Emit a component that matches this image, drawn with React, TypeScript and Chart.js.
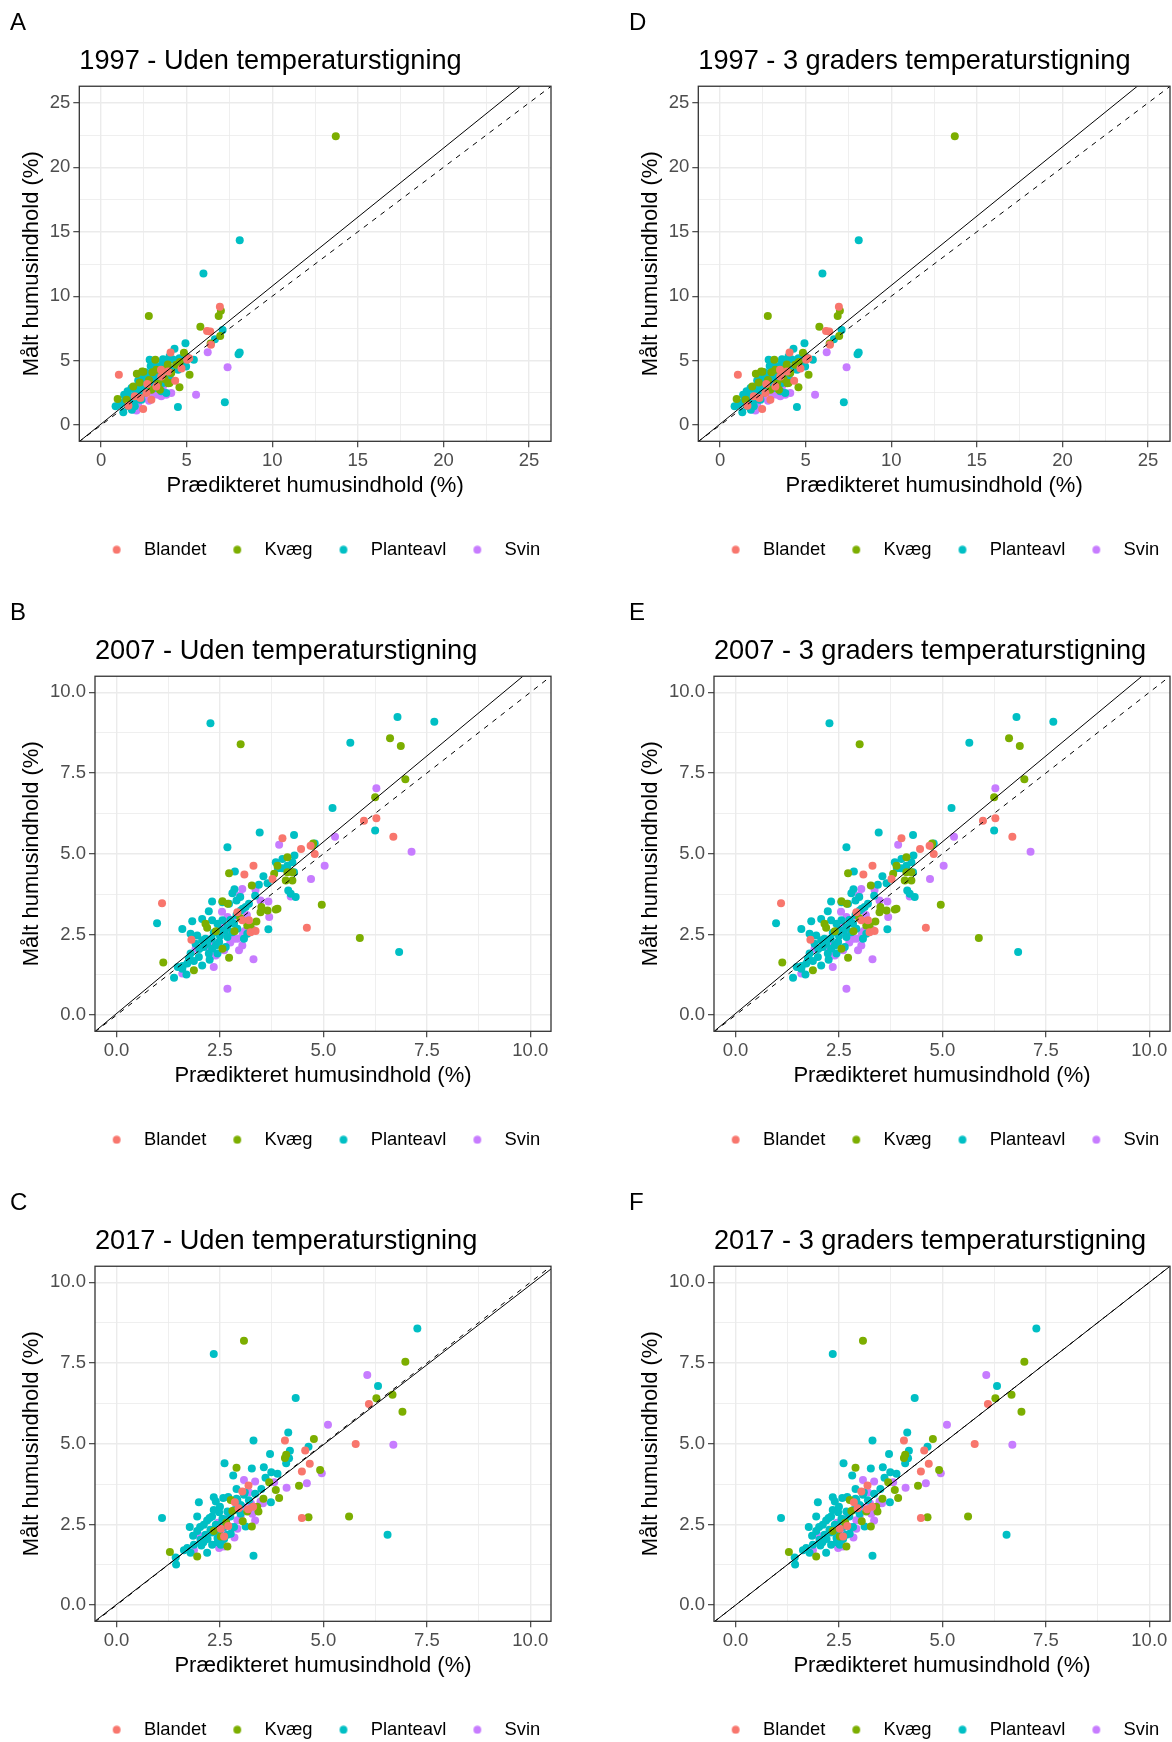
import React, { useEffect, useRef } from 'react';
import { Chart, registerables } from 'chart.js';

Chart.register(...registerables);

type Pt = [number, number];

const FONT = "'Liberation Sans', Arial, Helvetica, sans-serif";

const categories = ['Blandet', 'Kvæg', 'Planteavl', 'Svin'];
const categoryColors = ['#F8766D', '#7CAE00', '#00BFC4', '#C77CFF'];

// ---------- 1997 ----------
const blandet1997: Pt[] = [
  [1.04, 3.91], [6.94, 9.19], [6.19, 7.31], [6.38, 7.26], [6.42, 6.23], [4.06, 5.64], [5.03, 5.07],
  [4.33, 3.45], [2.94, 1.98], [2.46, 1.26], [3.52, 3.78], [3.23, 3.01], [2.65, 2.5], [1.97, 2.24],
  [3.91, 4.17], [5.15, 5.19], [2.3, 2.1], [1.6, 1.5], [3.5, 4.3], [2.7, 3.2], [4.7, 4.4],
];
const kvaeg1997: Pt[] = [
  [13.71, 22.41], [2.79, 8.47], [7.0, 8.88], [6.87, 8.47], [5.8, 7.64], [6.96, 6.92], [6.4, 6.33],
  [5.17, 3.91], [4.58, 2.94], [0.97, 2.03], [2.09, 3.99], [2.4, 4.17], [3.17, 5.07], [4.84, 5.62],
  [4.39, 4.68], [4.1, 4.04], [4.0, 3.27], [3.71, 3.58], [3.33, 3.22], [2.94, 2.75], [2.26, 3.32],
  [1.88, 3.01], [1.49, 1.98], [3.23, 4.3], [3.44, 2.74], [3.93, 3.26], [2.47, 4.15], [3.6, 4.3],
  [3.9, 4.7], [4.6, 4.9], [2.8, 3.5], [3.0, 4.1],
];
const planteavl1997: Pt[] = [
  [8.1, 14.34], [5.98, 11.76], [7.1, 7.39], [6.65, 6.67], [8.1, 5.64], [8.03, 5.51], [4.93, 6.36],
  [4.29, 5.92], [5.42, 5.07], [4.49, 1.42], [7.23, 1.78], [0.85, 1.47], [1.3, 1.0], [2.84, 5.07],
  [3.62, 5.12], [4.0, 5.33], [4.58, 5.2], [4.97, 4.56], [4.87, 4.94], [4.39, 4.56], [3.42, 4.56],
  [3.81, 4.81], [3.13, 4.17], [2.75, 3.78], [2.46, 3.66], [2.17, 3.47], [2.55, 3.27], [2.84, 3.01],
  [3.13, 2.88], [3.52, 2.63], [3.81, 2.5], [3.62, 3.27], [4.0, 3.78], [1.55, 2.63], [1.68, 2.24],
  [1.39, 1.85], [1.88, 1.85], [2.07, 2.24], [2.36, 1.98], [1.59, 1.47], [1.97, 1.47], [1.1, 1.6],
  [2.26, 2.88], [2.55, 2.5], [2.94, 3.4], [3.33, 3.78], [4.1, 4.3], [4.68, 4.81], [3.13, 4.81],
  [3.52, 4.04], [1.78, 2.88], [1.35, 2.37], [2.2, 2.0], [1.8, 1.2], [2.0, 2.6], [2.3, 2.4],
  [2.7, 3.2], [3.0, 3.6], [3.3, 4.4], [3.6, 4.9], [3.9, 5.0], [4.2, 5.1], [4.4, 5.0], [2.6, 4.1],
  [2.9, 4.6], [3.4, 3.1], [3.7, 3.6], [1.5, 1.9], [1.7, 1.6], [2.45, 2.95], [3.2, 3.2], [4.5, 4.3],
  [4.8, 5.1], [5.0, 5.3],
];
const svin1997: Pt[] = [
  [6.23, 5.66], [7.39, 4.5], [5.55, 2.37], [2.07, 1.13], [3.71, 4.81], [3.42, 3.78], [3.04, 3.53],
  [2.65, 3.14], [2.94, 3.01], [3.23, 3.53], [3.62, 3.01], [3.81, 2.37], [3.52, 2.24], [3.33, 2.37],
  [2.36, 2.5], [2.75, 2.75], [2.17, 1.6], [1.88, 1.21], [4.1, 2.5], [3.91, 4.56], [3.1, 4.2],
  [3.4, 4.5], [2.5, 2.1], [3.0, 2.3], [2.8, 1.9], [3.6, 3.4], [2.2, 2.9],
];

// ---------- 2007 ----------
const blandet2007: Pt[] = [
  [5.98, 6.02], [6.28, 6.1], [6.69, 5.53], [4.01, 5.48], [4.46, 5.15], [4.79, 4.99], [4.69, 5.25],
  [3.31, 4.63], [3.09, 4.36], [4.6, 2.71], [1.1, 3.47], [1.81, 2.34], [3.24, 2.57], [3.2, 2.94],
  [3.77, 4.22], [2.92, 3.19], [3.04, 2.94], [3.36, 2.61],
];
const kvaeg2007: Pt[] = [
  [3.0, 8.39], [6.61, 8.58], [6.87, 8.34], [6.98, 7.31], [6.25, 6.75], [4.75, 5.32], [2.72, 4.4],
  [4.96, 3.42], [5.88, 2.39], [1.13, 1.63], [1.87, 1.39], [2.72, 1.78], [3.27, 4.02], [3.89, 4.63],
  [4.13, 4.89], [4.09, 4.17], [4.25, 4.17], [3.48, 3.19], [3.65, 3.24], [3.85, 3.27], [3.89, 3.3],
  [3.38, 2.9], [2.99, 3.01], [3.16, 2.78], [2.56, 3.53], [2.69, 3.45], [2.15, 2.83], [2.19, 2.71],
  [2.56, 2.06], [3.24, 2.76], [4.13, 4.43], [4.25, 4.43], [4.73, 5.25], [3.81, 4.38], [2.4, 2.6],
  [2.85, 2.6], [3.5, 3.35],
];
const planteavl2007: Pt[] = [
  [2.27, 9.04], [6.79, 9.24], [7.68, 9.09], [5.65, 8.44], [5.22, 6.42], [6.25, 5.72], [3.46, 5.66],
  [4.29, 5.58], [2.68, 5.2], [4.79, 5.32], [2.86, 4.45], [6.83, 1.96], [0.98, 2.85], [1.39, 1.16],
  [1.69, 1.26], [3.67, 2.66], [3.44, 4.04], [3.85, 4.74], [4.01, 4.84], [4.25, 4.74], [4.13, 4.63],
  [4.29, 4.43], [4.21, 3.76], [4.33, 3.66], [4.15, 3.86], [3.65, 4.09], [2.9, 3.55], [2.72, 3.45],
  [2.99, 3.66], [2.8, 3.78], [2.56, 3.5], [2.31, 3.52], [2.23, 3.22], [2.07, 2.98], [1.83, 2.91],
  [1.59, 2.67], [1.79, 2.52], [1.95, 2.47], [2.07, 2.32], [2.19, 2.21], [2.31, 2.06], [2.44, 1.91],
  [1.99, 1.8], [1.87, 1.68], [2.07, 1.54], [1.71, 1.6], [1.59, 1.44], [2.23, 1.91], [2.11, 2.11],
  [2.48, 2.27], [2.68, 2.42], [2.52, 2.63], [2.68, 2.73], [2.84, 2.83], [3.16, 2.52], [3.08, 2.37],
  [2.56, 2.94], [2.44, 2.83], [3.0, 3.24], [3.12, 3.35], [2.15, 2.37], [1.91, 2.21], [2.3, 2.37],
  [2.4, 2.16], [2.64, 2.11], [1.79, 1.91], [1.48, 1.49], [2.8, 2.57], [2.92, 2.68], [2.31, 2.94],
  [2.35, 2.55], [2.5, 2.45], [2.62, 2.62], [2.75, 2.95], [2.9, 3.1], [3.05, 3.3], [3.2, 3.45],
  [2.0, 2.05], [1.75, 1.75], [1.6, 1.52], [2.25, 1.72], [2.45, 2.2], [3.35, 3.7], [3.55, 4.3],
  [4.0, 4.55], [4.3, 4.95], [3.9, 4.55], [2.85, 3.9],
];
const svin2007: Pt[] = [
  [6.28, 7.03], [7.13, 5.06], [5.28, 5.53], [3.93, 5.28], [5.03, 4.63], [4.7, 4.22], [2.68, 0.82],
  [3.31, 1.73], [2.35, 1.49], [4.21, 3.68], [3.04, 3.91], [2.98, 3.71], [3.36, 3.88], [3.67, 3.52],
  [2.68, 3.04], [2.8, 2.94], [2.84, 2.37], [3.04, 2.16], [2.96, 2.01], [2.6, 2.01], [2.4, 1.85],
  [2.27, 1.8], [2.19, 2.11], [3.32, 2.63], [3.1, 2.61], [2.92, 2.37], [1.59, 1.29], [1.91, 2.06],
  [3.48, 3.55], [3.69, 3.04], [2.5, 2.75], [2.65, 2.55], [2.75, 2.25], [3.05, 2.5], [3.15, 3.1],
  [2.3, 2.3], [2.55, 3.2],
];

// ---------- 2017 ----------
const blandet2017: Pt[] = [
  [6.1, 6.23], [5.78, 4.99], [4.07, 5.1], [4.56, 4.79], [4.67, 4.38], [4.48, 4.14], [4.48, 2.7],
  [3.19, 3.71], [3.04, 3.52], [2.86, 3.19], [3.18, 2.97], [2.6, 2.13], [2.52, 2.37], [2.95, 3.0],
  [2.7, 2.45], [3.3, 3.05],
];
const kvaeg2017: Pt[] = [
  [3.08, 8.19], [6.98, 7.54], [6.28, 6.41], [6.67, 6.52], [6.91, 5.99], [4.77, 5.15], [4.07, 4.56],
  [4.1, 4.66], [2.9, 4.26], [4.92, 4.19], [4.41, 3.7], [3.85, 3.57], [3.93, 3.32], [3.69, 3.81],
  [3.43, 2.9], [2.76, 3.26], [2.8, 2.92], [3.16, 2.9], [3.27, 2.44], [5.62, 2.75], [4.64, 2.72],
  [1.29, 1.65], [1.95, 1.51], [2.68, 1.82], [2.52, 2.13], [3.4, 3.05], [2.65, 2.55], [3.05, 2.6],
  [3.55, 3.3], [2.35, 2.3],
];
const planteavl2017: Pt[] = [
  [7.27, 8.57], [2.35, 7.78], [6.32, 6.79], [4.33, 6.42], [3.31, 5.1], [4.15, 5.35], [3.71, 4.68],
  [4.19, 4.78], [4.64, 4.91], [2.61, 4.4], [2.82, 4.02], [3.27, 4.23], [3.56, 4.27], [3.74, 4.12],
  [3.89, 4.07], [4.1, 4.4], [4.17, 4.55], [2.9, 3.6], [3.08, 3.42], [1.99, 3.19], [2.35, 3.34],
  [2.58, 3.32], [1.95, 2.75], [1.77, 2.42], [2.02, 2.42], [2.19, 2.62], [2.31, 2.75], [2.48, 2.88],
  [2.68, 2.9], [2.56, 2.68], [2.4, 2.49], [2.27, 2.34], [2.15, 2.18], [2.03, 2.03], [1.87, 1.87],
  [1.71, 1.77], [1.79, 1.62], [2.19, 1.62], [2.44, 2.08], [2.68, 2.18], [3.12, 2.44], [3.73, 3.19],
  [1.1, 2.7], [1.43, 1.48], [1.44, 1.26], [3.31, 1.53], [6.55, 2.18], [2.92, 3.26], [3.0, 2.83],
  [2.4, 3.21], [2.84, 2.42], [2.52, 1.87], [2.31, 1.87], [1.63, 1.7], [2.11, 2.49], [2.76, 2.21],
  [2.6, 2.42], [2.48, 2.21], [2.2, 2.05], [2.3, 2.25], [2.45, 2.35], [2.55, 2.55], [2.65, 2.65],
  [2.75, 2.75], [2.85, 2.95], [3.0, 3.1], [3.2, 3.25], [3.35, 3.45], [2.05, 1.85], [1.95, 2.3],
  [2.25, 2.7], [2.35, 2.95], [2.5, 3.05], [2.7, 3.35], [3.5, 3.6], [3.6, 3.95], [2.1, 1.95],
  [2.6, 2.05], [2.9, 3.3], [3.1, 3.5], [1.85, 2.15], [2.45, 1.95],
];
const svin2017: Pt[] = [
  [6.06, 7.13], [5.11, 5.59], [6.69, 4.97], [4.96, 4.09], [4.6, 3.78], [4.11, 3.64], [3.08, 3.88],
  [3.35, 3.83], [3.2, 3.5], [3.48, 3.21], [3.54, 3.16], [3.28, 2.83], [3.35, 2.62], [3.0, 2.73],
  [2.92, 2.37], [2.76, 2.42], [2.6, 2.21], [1.99, 2.16], [2.52, 1.82], [2.48, 1.77], [2.6, 1.82],
  [1.87, 1.7], [3.81, 3.81], [2.92, 2.63], [2.45, 2.55], [2.7, 2.85], [3.05, 3.05], [3.25, 3.15],
  [2.55, 1.9], [2.85, 2.1],
];

// ---------- axes ----------
const majorTicks1997 = [0, 5, 10, 15, 20, 25];
const tickLabels1997 = ['0', '5', '10', '15', '20', '25'];
const minorTicks1997 = [2.5, 7.5, 12.5, 17.5, 22.5];
const majorTicksDecade = [0, 2.5, 5, 7.5, 10];
const tickLabelsDecade = ['0.0', '2.5', '5.0', '7.5', '10.0'];
const minorTicksDecade = [1.25, 3.75, 6.25, 8.75];
const xRange1997 = [-1.27, 26.28];
const yRange1997 = [-1.25, 26.29];
const xRangeDecade = [-0.52, 10.5];
const yRangeDecade = [-0.5, 10.5];

// ---------- panels ----------
const panelLetters = ['A', 'B', 'C', 'D', 'E', 'F'];
const panelTitles = [
  '1997 - Uden temperaturstigning',
  '2007 - Uden temperaturstigning',
  '2017 - Uden temperaturstigning',
  '1997 - 3 graders temperaturstigning',
  '2007 - 3 graders temperaturstigning',
  '2017 - 3 graders temperaturstigning',
];
const solidSlopes = [1.07, 1.064, 0.99, 1.075, 1.064, 1.0];
const solidIntercepts = [0.09, 0.05, 0.02, 0.09, 0.05, 0.0];
const dashedSlopes = [1, 1, 1, 1, 1, 1];
const dashedIntercepts = [0, 0, 0, 0, 0, 0];

const xTitle = 'Prædikteret humusindhold (%)';
const yTitle = 'Målt humusindhold (%)';

const PANEL_W = 638;
const PANEL_H = 590;
const COL_X = [0, 619];
const ROW_Y = [0, 590, 1180];

function yearSeries(row: number): Pt[][] {
  if (row === 0) return [blandet1997, kvaeg1997, planteavl1997, svin1997];
  if (row === 1) return [blandet2007, kvaeg2007, planteavl2007, svin2007];
  return [blandet2017, kvaeg2017, planteavl2017, svin2017];
}

function makeDot(color: string) {
  const c = document.createElement('canvas');
  c.width = 27;
  c.height = 9;
  const g = c.getContext('2d')!;
  g.fillStyle = color;
  g.beginPath();
  g.arc(9, 4.5, 3.9, 0, Math.PI * 2);
  g.fill();
  return c;
}

const panelBorder = {
  id: 'panelBorder',
  afterDatasetsDraw(chart: any) {
    const { ctx, chartArea } = chart;
    const { left, top, right, bottom } = chartArea;
    ctx.save();
    ctx.strokeStyle = '#333333';
    ctx.lineWidth = 1.3;
    ctx.strokeRect(left, top, right - left, bottom - top);
    ctx.restore();
  },
};

function Panel({ index }: { index: number }) {
  const ref = useRef<HTMLCanvasElement | null>(null);
  const col = index < 3 ? 0 : 1;
  const row = index % 3;

  useEffect(() => {
    if (!ref.current) return;
    const is97 = row === 0;
    const major = is97 ? majorTicks1997 : majorTicksDecade;
    const labels = is97 ? tickLabels1997 : tickLabelsDecade;
    const minor = is97 ? minorTicks1997 : minorTicksDecade;
    const xr = is97 ? xRange1997 : xRangeDecade;
    const yr = is97 ? yRange1997 : yRangeDecade;
    const allTicks = [...major, ...minor].sort((a, b) => a - b);
    const isMajor = (v: number) => major.some((t) => Math.abs(t - v) < 1e-6);
    const labelFor = (v: number) => {
      const i = major.findIndex((t) => Math.abs(t - v) < 1e-6);
      return i >= 0 ? labels[i] : '';
    };
    const series = yearSeries(row);
    const dots = categoryColors.map(makeDot);
    const x0 = xr[0] - 2;
    const x1 = xr[1] + 2;

    const gridCfg = {
      color: '#EBEBEB',
      lineWidth: (c: any) => (c.tick && isMajor(c.tick.value) ? 1.4 : 0.8),
      tickLength: 6,
      tickWidth: 1.1,
      tickColor: (c: any) => (c.tick && isMajor(c.tick.value) ? '#333333' : 'rgba(0,0,0,0)'),
    };
    const tickCfg = {
      autoSkip: false,
      maxRotation: 0,
      minRotation: 0,
      padding: 3,
      color: '#4D4D4D',
      font: { size: 18.5, family: FONT },
      callback: (v: any) => labelFor(Number(v)),
    };

    const chart = new Chart(ref.current, {
      type: 'scatter',
      data: {
        datasets: [
          ...categories.map((c, i) => ({
            type: 'scatter' as const,
            label: c,
            data: series[i].map(([x, y]) => ({ x, y })),
            backgroundColor: categoryColors[i],
            borderColor: categoryColors[i],
            pointRadius: 4,
            pointHoverRadius: 4,
            pointBorderWidth: 0,
            order: 1,
          })),
          {
            type: 'line' as const,
            label: 'solid',
            data: [
              { x: x0, y: solidSlopes[index] * x0 + solidIntercepts[index] },
              { x: x1, y: solidSlopes[index] * x1 + solidIntercepts[index] },
            ],
            borderColor: '#000000',
            borderWidth: 1,
            pointRadius: 0,
            fill: false,
            order: 0,
          },
          {
            type: 'line' as const,
            label: 'dashed',
            data: [
              { x: x0, y: dashedSlopes[index] * x0 + dashedIntercepts[index] },
              { x: x1, y: dashedSlopes[index] * x1 + dashedIntercepts[index] },
            ],
            borderColor: '#000000',
            borderWidth: 1,
            borderDash: [5, 5.5],
            pointRadius: 0,
            fill: false,
            order: 0,
          },
        ] as any,
      },
      options: {
        animation: false,
        responsive: false,
        events: [],
        layout: { padding: { left: 10, top: 1, right: 0, bottom: 21 } },
        plugins: {
          tooltip: { enabled: false },
          title: {
            display: true,
            text: panelLetters[index],
            align: 'start',
            fullSize: true,
            color: '#000000',
            font: { size: 24, weight: 'normal', family: FONT },
            padding: { top: 8, bottom: 0 },
          },
          subtitle: {
            display: true,
            text: panelTitles[index],
            align: 'start',
            fullSize: false,
            color: '#000000',
            font: { size: 27.2, weight: 'normal', family: FONT },
            padding: { top: 7.0, bottom: 8.8 },
          },
          legend: {
            display: true,
            position: 'bottom',
            align: 'center',
            fullSize: true,
            labels: {
              usePointStyle: true,
              pointStyleWidth: 27,
              boxHeight: 9,
              padding: 22,
              color: '#000000',
              font: { size: 18.4, family: FONT },
              generateLabels: (ch: any) => {
                const items = (Chart.defaults.plugins.legend.labels as any).generateLabels(ch);
                return items
                  .filter((it: any) => it.datasetIndex < categories.length)
                  .map((it: any) => ({ ...it, pointStyle: dots[it.datasetIndex] }));
              },
            },
          },
        },
        scales: {
          x: {
            type: 'linear',
            min: xr[0],
            max: xr[1],
            afterBuildTicks: (s: any) => {
              s.ticks = allTicks.map((v) => ({ value: v }));
            },
            afterFit: (s: any) => {
              s.height = 77.3;
            },
            ticks: tickCfg as any,
            grid: gridCfg as any,
            border: { display: false },
            title: {
              display: true,
              text: xTitle,
              color: '#000000',
              font: { size: 22, family: FONT },
              padding: { top: 0, bottom: 19.6 },
            },
          },
          y: {
            type: 'linear',
            min: yr[0],
            max: yr[1],
            afterBuildTicks: (s: any) => {
              s.ticks = allTicks.map((v) => ({ value: v }));
            },
            afterFit: (s: any) => {
              s.width = is97 ? 69.3 : 85;
            },
            ticks: tickCfg as any,
            grid: gridCfg as any,
            border: { display: false },
            title: {
              display: true,
              text: yTitle,
              color: '#000000',
              font: { size: 22, family: FONT },
              padding: { top: 9, bottom: 0 },
            },
          },
          y2: {
            type: 'linear',
            position: 'right',
            display: true,
            grid: { display: false, drawOnChartArea: false, drawTicks: false },
            ticks: { display: false },
            border: { display: false },
            afterFit: (s: any) => {
              s.width = 87;
            },
          },
        },
      } as any,
      plugins: [panelBorder],
    });
    return () => chart.destroy();
  }, [index, row]);

  return (
    <canvas
      ref={ref}
      width={PANEL_W}
      height={PANEL_H}
      style={{ position: 'absolute', left: COL_X[col], top: ROW_Y[row], width: PANEL_W, height: PANEL_H }}
    />
  );
}

export default function App() {
  return (
    <div
      style={{
        position: 'absolute',
        left: 0,
        top: 0,
        width: 1172,
        height: 1742,
        overflow: 'hidden',
        background: '#ffffff',
        fontFamily: FONT,
      }}
    >
      {panelLetters.map((_, i) => (
        <Panel key={i} index={i} />
      ))}
    </div>
  );
}
